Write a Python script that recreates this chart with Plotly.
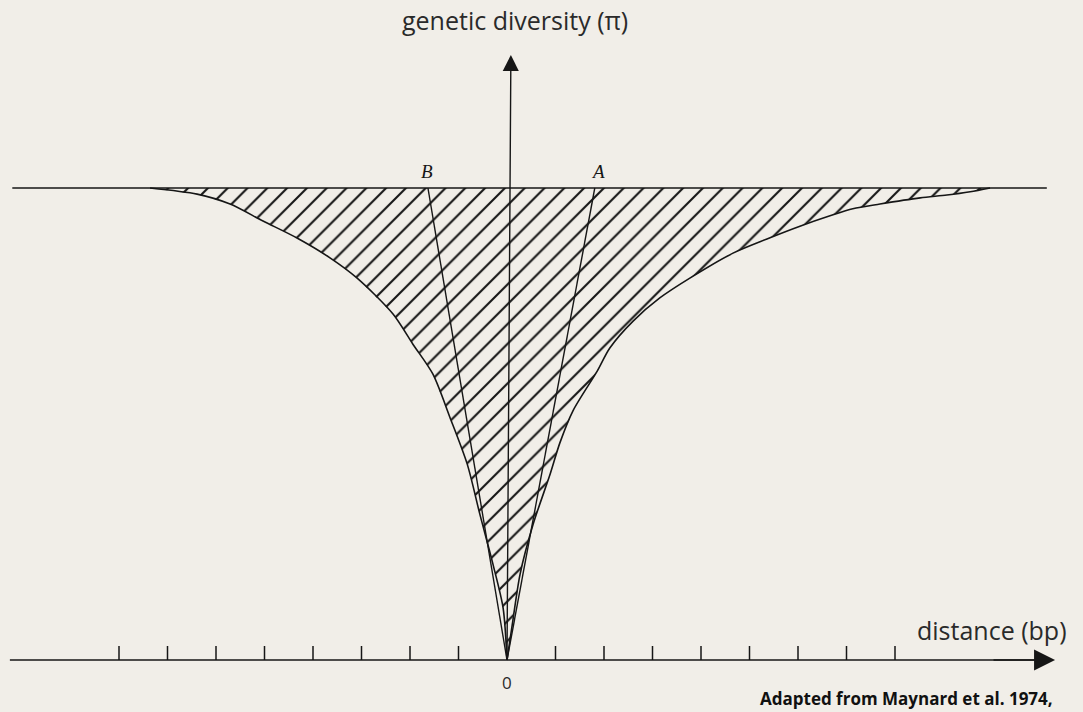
import plotly.graph_objects as go

# Genetic diversity (pi) along the sequence, relative to the neutral level (1.0)
# Left flank: distance (tick units) and pi
dist_left = [-7.36, -6.39, -5.71, -5.03, -4.33, -3.65, -3.09, -2.35, -1.94,
             -1.53, -1.18, -0.82, -0.56, -0.29, -0.08, 0.0]
pi_left = [1.0, 0.987, 0.966, 0.930, 0.894, 0.852, 0.809, 0.733, 0.669,
           0.606, 0.515, 0.415, 0.309, 0.203, 0.110, 0.0]

# Right flank
dist_right = [0.0, 0.12, 0.27, 0.54, 0.89, 1.09, 1.36, 1.86, 2.12, 2.60, 3.15,
              3.77, 4.66, 5.36, 6.04, 6.66, 7.13, 7.69, 8.52, 9.07, 9.55, 9.96]
pi_right = [0.0, 0.083, 0.182, 0.288, 0.394, 0.460, 0.528, 0.612, 0.661, 0.718,
            0.767, 0.809, 0.862, 0.892, 0.919, 0.941, 0.956, 0.966, 0.979,
            0.985, 0.992, 1.0]

neutral_pi = 1.0
sweep_site = 0.0
marker_b = -1.63
marker_a = 1.81
tick_positions = [-8, -7, -6, -5, -4, -3, -2, -1, 1, 2, 3, 4, 5, 6, 7, 8]

BG = "#f1eee8"
INK = "#161616"
TXT = "#2a2a2a"

# pixel-based scale: 48.5 px per tick unit, 472 px per unit of pi
PX_X, PX_Y = 48.5, 472.0
W, H = 1083, 712
X0, Y0 = 507.0, 660.0
x_range = [-X0 / PX_X, (W - X0) / PX_X]
y_range = [(Y0 - H) / PX_Y, Y0 / PX_Y]

fig = go.Figure()

# Hatched trough between the neutral level and the diversity curve
trough_x = dist_left + dist_right[1:] + [dist_left[0]]
trough_y = pi_left + pi_right[1:] + [pi_left[0]]
fig.add_trace(go.Scatter(
    x=trough_x, y=trough_y, mode="lines", fill="toself",
    line=dict(color="rgba(0,0,0,0)", width=0),
    fillcolor="rgba(0,0,0,0)",
    fillpattern=dict(shape="/", size=14, solidity=0.15,
                     fgcolor=INK, bgcolor="rgba(0,0,0,0)", fillmode="replace"),
    hoverinfo="skip", showlegend=False,
))

# Smooth outlines of both flanks
for xs, ys in ((dist_left, pi_left), (dist_right, pi_right)):
    fig.add_trace(go.Scatter(
        x=xs, y=ys, mode="lines",
        line=dict(color=INK, width=1.6, shape="spline", smoothing=0.8),
        hoverinfo="skip", showlegend=False,
    ))

# Neutral level line
fig.add_trace(go.Scatter(
    x=[-10.2, 11.13], y=[neutral_pi, neutral_pi], mode="lines",
    line=dict(color=INK, width=1.6), hoverinfo="skip", showlegend=False,
))

# Lines from marker loci B and A down to the selected site
for m in (marker_b, marker_a):
    fig.add_trace(go.Scatter(
        x=[m, sweep_site], y=[neutral_pi, 0], mode="lines",
        line=dict(color=INK, width=1.4), hoverinfo="skip", showlegend=False,
    ))

# Baseline (head added as annotation arrow)
fig.add_trace(go.Scatter(
    x=[-10.25, 10.9], y=[0, 0], mode="lines",
    line=dict(color=INK, width=1.7), hoverinfo="skip", showlegend=False,
))

# Tick marks on the distance axis
tick_h = 14 / PX_Y
tx, ty = [], []
for t in tick_positions:
    tx += [t, t, None]
    ty += [0, tick_h, None]
fig.add_trace(go.Scatter(
    x=tx, y=ty, mode="lines", line=dict(color=INK, width=1.5),
    hoverinfo="skip", showlegend=False,
))

annotations = [
    # vertical axis with arrow
    dict(x=sweep_site + 0.08, y=1.282, ax=sweep_site, ay=0, xref="x", yref="y",
         axref="x", ayref="y", showarrow=True, arrowhead=2, arrowsize=2.3,
         arrowwidth=1.4, arrowcolor=INK, text=""),
    # horizontal axis with arrow
    dict(x=11.3, y=0, ax=10.0, ay=0, xref="x", yref="y", axref="x", ayref="y",
         showarrow=True, arrowhead=2, arrowsize=2.8, arrowwidth=1.5,
         arrowcolor=INK, text=""),
    dict(x=0.16, y=1.356, xref="x", yref="y", text="genetic diversity (π)",
         showarrow=False, font=dict(family="Open Sans", size=25, color=TXT)),
    dict(x=11.59, y=0.0636, xref="x", yref="y", text="distance (bp)",
         showarrow=False, xanchor="right",
         font=dict(family="Open Sans", size=25, color=TXT)),
    dict(x=sweep_site, y=-0.047, xref="x", yref="y", text="0", showarrow=False,
         font=dict(family="Open Sans", size=17, color=TXT)),
    dict(x=-1.65, y=1.034, xref="x", yref="y", text="<i>B</i>", showarrow=False,
         font=dict(family="Liberation Serif", size=19, color=INK)),
    dict(x=1.88, y=1.034, xref="x", yref="y", text="<i>A</i>", showarrow=False,
         font=dict(family="Liberation Serif", size=19, color=INK)),
    dict(x=11.3, y=-0.0805, xref="x", yref="y",
         text="<b>Adapted from Maynard et al. 1974,</b>", showarrow=False,
         xanchor="right", font=dict(family="Open Sans", size=17, color="#111111")),
]

fig.update_layout(
    width=W, height=H,
    margin=dict(l=0, r=0, t=0, b=0),
    paper_bgcolor=BG, plot_bgcolor=BG,
    xaxis=dict(range=x_range, visible=False, fixedrange=True),
    yaxis=dict(range=y_range, visible=False, fixedrange=True),
    annotations=annotations,
    showlegend=False,
)

fig.write_html("out.html")
